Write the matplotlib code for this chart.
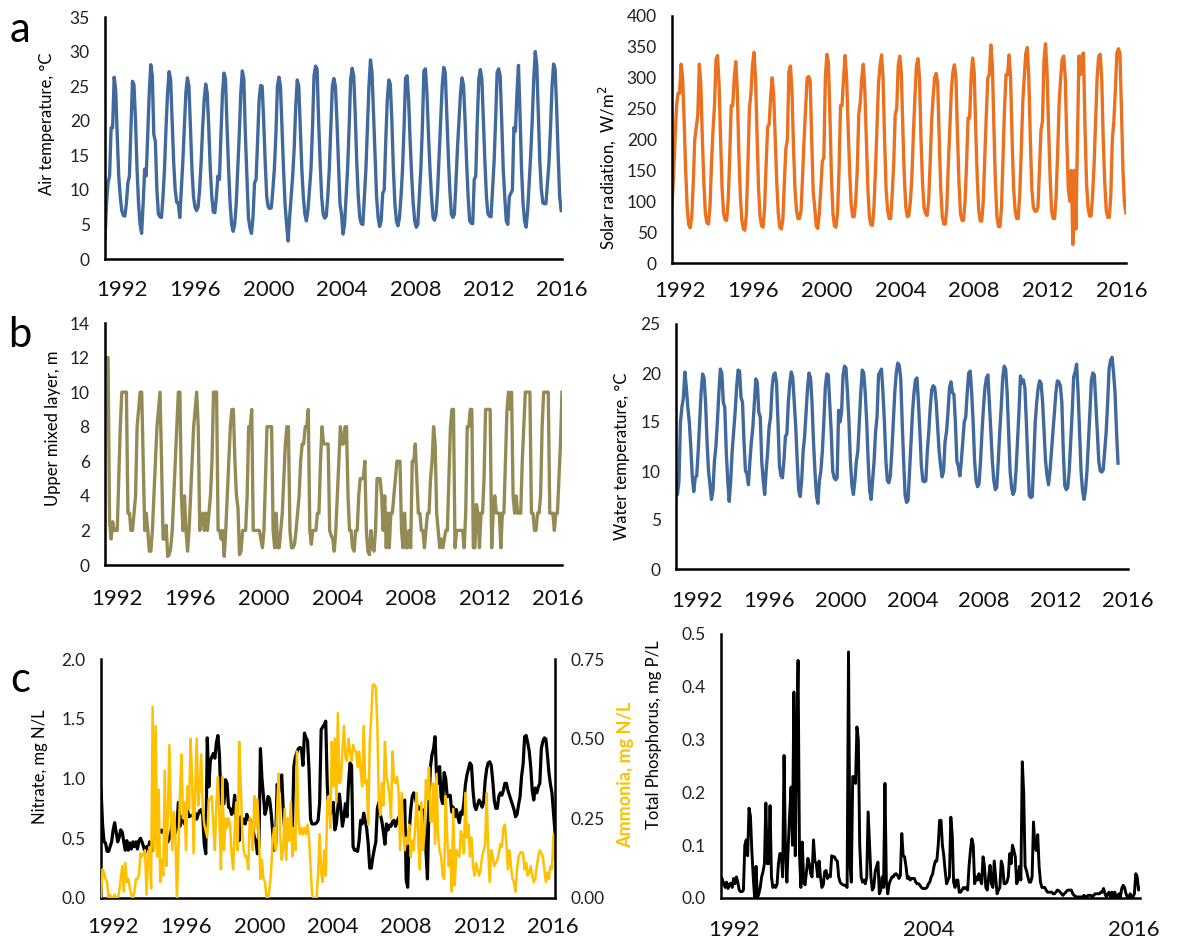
import numpy as np
import matplotlib
matplotlib.use("Agg")
import matplotlib.pyplot as plt

plt.rcParams['font.family'] = ['Lato', 'DejaVu Sans']

# Series mensuales, enero 1991 - diciembre 2015 (una fila por año)
temp_aire = [
    [2.9, 8.0, 11.0, 12.0, 19.0, 19.0, 26.3, 24.5, 18.0, 12.0, 9.0, 7.0],
    [6.3, 6.2, 8.0, 11.0, 12.0, 19.0, 25.7, 25.2, 20.0, 13.0, 8.0, 5.0],
    [3.7, 8.0, 13.0, 12.0, 18.0, 24.0, 28.1, 26.5, 18.0, 17.0, 10.0, 6.5],
    [6.1, 6.0, 9.0, 13.0, 19.0, 24.0, 27.1, 26.0, 20.0, 14.0, 10.0, 8.2],
    [8.1, 6.0, 10.0, 14.0, 19.0, 24.0, 26.2, 25.0, 19.0, 13.0, 9.0, 7.5],
    [7.0, 7.5, 10.0, 14.0, 19.0, 23.0, 25.3, 24.0, 19.0, 13.0, 9.0, 6.8],
    [6.7, 9.0, 12.0, 11.5, 18.0, 24.0, 26.9, 26.0, 19.0, 13.0, 8.0, 5.0],
    [4.0, 5.0, 8.0, 13.0, 18.0, 24.0, 27.2, 26.0, 18.0, 12.0, 6.0, 4.5],
    [3.7, 6.0, 11.0, 11.5, 17.0, 23.0, 25.1, 25.0, 20.0, 14.0, 9.0, 7.5],
    [7.3, 7.4, 10.0, 13.0, 18.0, 25.0, 26.3, 25.0, 19.0, 13.0, 8.0, 5.0],
    [2.6, 6.0, 9.0, 12.0, 16.0, 22.0, 25.9, 25.0, 19.0, 13.0, 9.0, 6.5],
    [5.5, 7.0, 10.0, 13.0, 19.0, 26.5, 27.9, 27.5, 20.0, 14.0, 9.0, 6.5],
    [5.9, 6.2, 9.0, 13.0, 19.0, 25.0, 26.1, 25.0, 20.0, 14.0, 8.0, 6.5],
    [3.6, 5.0, 9.0, 13.0, 19.0, 26.0, 27.6, 26.5, 21.0, 14.0, 9.0, 6.0],
    [5.1, 5.0, 9.0, 13.0, 19.0, 25.0, 28.8, 27.0, 21.0, 15.0, 9.0, 6.0],
    [4.7, 5.5, 9.5, 10.0, 17.0, 23.0, 25.9, 25.3, 20.0, 13.0, 8.0, 5.5],
    [4.8, 6.0, 9.0, 13.0, 19.0, 26.2, 26.5, 23.0, 17.0, 12.0, 8.0, 5.5],
    [4.6, 5.0, 9.0, 13.0, 19.0, 27.2, 27.5, 24.0, 18.0, 13.0, 9.0, 6.0],
    [5.6, 6.5, 10.0, 15.0, 20.0, 25.0, 27.7, 27.0, 21.0, 15.0, 10.0, 6.5],
    [6.0, 6.5, 11.0, 16.0, 20.0, 24.0, 26.2, 25.0, 20.0, 14.0, 9.0, 5.5],
    [5.2, 5.1, 11.5, 12.0, 20.0, 26.0, 27.4, 26.0, 20.0, 14.0, 9.0, 6.5],
    [6.2, 6.1, 10.0, 14.0, 20.0, 27.0, 27.5, 26.5, 20.0, 13.0, 9.0, 5.5],
    [5.0, 9.0, 9.5, 10.0, 19.0, 18.5, 24.0, 28.0, 21.0, 13.0, 8.0, 5.5],
    [4.6, 7.0, 11.0, 15.0, 20.0, 26.0, 30.0, 28.0, 21.0, 14.0, 10.0, 8.1],
    [8.0, 8.0, 11.0, 14.0, 19.0, 25.0, 28.2, 27.5, 22.0, 15.0, 9.0, 7.0],
]

radiacion = [
    [95, 140, 200, 255, 275, 275, 322, 300, 230, 150, 90, 62],
    [57, 75, 130, 200, 220, 240, 322, 290, 200, 130, 80, 65],
    [63, 90, 160, 215, 255, 330, 336, 290, 200, 120, 80, 70],
    [69, 100, 170, 255, 255, 300, 326, 280, 180, 110, 70, 55],
    [53, 80, 160, 250, 275, 320, 341, 300, 210, 120, 75, 60],
    [58, 90, 160, 220, 225, 270, 300, 270, 200, 130, 80, 58],
    [55, 70, 130, 185, 200, 310, 319, 280, 190, 120, 85, 72],
    [72, 85, 140, 200, 250, 300, 302, 295, 200, 115, 90, 60],
    [56, 80, 120, 165, 170, 300, 338, 325, 240, 140, 80, 60],
    [58, 80, 150, 255, 255, 300, 336, 300, 220, 150, 95, 75],
    [75, 100, 150, 240, 260, 300, 322, 280, 200, 120, 75, 62],
    [61, 90, 150, 220, 290, 320, 337, 300, 200, 120, 85, 72],
    [72, 110, 160, 240, 250, 320, 335, 310, 220, 140, 90, 75],
    [77, 100, 140, 210, 270, 320, 331, 300, 200, 130, 90, 80],
    [77, 100, 160, 230, 270, 300, 307, 290, 200, 120, 75, 63],
    [63, 90, 160, 220, 280, 310, 321, 300, 210, 130, 80, 69],
    [69, 100, 160, 235, 235, 300, 332, 310, 220, 140, 85, 68],
    [68, 100, 170, 240, 300, 305, 353, 320, 220, 130, 75, 59],
    [59, 90, 170, 250, 305, 305, 337, 300, 200, 120, 85, 72],
    [72, 110, 180, 260, 300, 340, 349, 300, 200, 120, 90, 84],
    [84, 90, 150, 215, 230, 330, 355, 310, 220, 140, 85, 72],
    [72, 110, 180, 260, 300, 330, 335, 300, 200, 120, 100, 150],
    [30, 150, 55, 200, 335, 305, 335, 340, 220, 130, 90, 76],
    [76, 110, 160, 230, 300, 335, 338, 300, 200, 130, 85, 74],
    [74, 110, 200, 230, 280, 340, 347, 340, 250, 150, 95, 81],
]

capa_mezcla = [
    [12, 12, 12, 2.5, 1.5, 2.5, 2, 2, 2, 5, 8, 10],
    [10, 10, 10, 3, 3, 2, 2, 3, 4, 8, 9, 10],
    [10, 6, 2, 3, 2, 0.8, 0.8, 2, 4, 6, 8, 9],
    [10, 6, 1.5, 1.5, 2.3, 0.5, 0.6, 1, 2, 4, 6, 8],
    [10, 10, 4, 2, 4, 2, 0.8, 2, 4, 6, 8, 9],
    [10, 8, 2, 2.5, 3, 2, 3, 2, 3, 4, 6, 10],
    [10, 10, 2, 2, 1.5, 2, 0.5, 2, 4, 6, 8, 9],
    [9, 6, 4, 3.3, 0.6, 0.8, 2, 2, 2, 4, 8, 8],
    [9, 2, 2, 2, 2, 2, 1.5, 1, 2, 5, 8, 8],
    [8, 8, 2, 1, 3, 1, 1, 2, 3, 5, 7, 8],
    [8, 2, 1, 1, 1.2, 2, 3, 4, 6, 7, 7, 8],
    [8, 9, 2, 1.2, 2, 2, 2, 3, 3, 6, 8, 7],
    [7, 7, 7, 2, 1.7, 1.5, 0.8, 2, 4, 6, 8, 7],
    [7, 8, 8, 4, 2, 2, 1, 0.8, 2, 2, 4, 5],
    [5, 5, 6, 2, 0.8, 0.6, 2, 1, 0.8, 2, 5, 5],
    [5, 4, 2, 4, 1, 3, 1, 3, 3, 4, 5, 6],
    [6, 6, 2, 1, 3, 1, 1, 2, 1, 6, 6, 7],
    [5, 3, 3, 2, 2, 1, 2, 3, 3, 5, 6, 8],
    [7, 3, 2, 1, 1.5, 1, 1.5, 2, 2, 5, 8, 9],
    [9, 1, 2, 2, 2, 2, 2, 1, 3, 8, 8, 9],
    [9, 1, 1, 3.5, 3, 1, 3, 3, 5, 9, 9, 9],
    [9, 1, 3, 4, 3, 3, 3, 1, 3, 3, 6, 9],
    [10, 9, 10, 4, 3, 4, 3, 3, 3, 6, 8, 10],
    [10, 10, 10, 3, 3, 2, 2, 3, 3, 4, 8, 10],
    [10, 10, 10, 3, 3, 3, 2, 3, 3, 5, 7, 10],
]

temp_agua = [
    [8.0, 7.6, 9.0, 15.0, 16.5, 17.5, 20.1, 18.5, 16.5, 15.0, 12.5, 9.5],
    [7.9, 9.3, 9.5, 12.0, 15.0, 18.0, 19.9, 19.5, 17.0, 13.0, 10.0, 8.5],
    [7.1, 8.0, 11.0, 12.5, 15.0, 18.0, 20.4, 20.0, 17.0, 16.5, 12.0, 9.0],
    [6.9, 9.0, 12.0, 14.0, 16.0, 18.5, 20.3, 20.2, 17.5, 17.0, 13.0, 10.0],
    [9.7, 8.6, 11.0, 13.0, 14.5, 17.0, 19.4, 19.0, 16.0, 15.5, 11.0, 9.0],
    [7.6, 10.0, 12.0, 14.5, 15.5, 18.5, 19.8, 20.0, 19.0, 15.0, 10.5, 9.5],
    [9.3, 11.0, 13.5, 13.8, 17.0, 19.0, 20.1, 19.5, 17.0, 14.5, 11.0, 8.0],
    [7.4, 9.0, 12.0, 13.5, 16.0, 18.5, 20.0, 19.5, 17.0, 13.0, 10.0, 7.5],
    [6.7, 9.0, 10.0, 12.0, 15.0, 18.5, 19.9, 19.8, 17.0, 14.0, 10.0, 9.3],
    [9.1, 9.3, 16.2, 15.0, 16.0, 19.8, 20.7, 20.5, 18.0, 15.0, 11.0, 8.5],
    [7.6, 9.0, 11.0, 12.0, 15.0, 18.0, 20.3, 20.0, 18.0, 15.0, 11.0, 8.0],
    [7.1, 9.0, 11.0, 14.0, 15.5, 19.8, 20.1, 20.4, 18.0, 15.0, 11.0, 9.0],
    [8.8, 9.5, 12.0, 15.0, 18.0, 20.0, 21.0, 20.8, 19.5, 15.0, 11.0, 7.5],
    [6.8, 7.0, 10.0, 13.0, 16.0, 18.0, 19.3, 19.5, 17.0, 14.0, 10.5, 9.0],
    [8.9, 9.0, 12.0, 14.0, 16.5, 18.3, 18.7, 18.5, 17.0, 14.5, 12.0, 10.5],
    [9.4, 10.0, 13.0, 14.0, 16.0, 18.5, 19.1, 18.0, 17.8, 15.0, 11.0, 10.5],
    [9.5, 11.0, 13.0, 15.0, 15.5, 18.0, 20.0, 20.2, 18.0, 15.0, 11.0, 9.0],
    [8.4, 8.7, 11.0, 14.0, 16.5, 18.5, 19.5, 19.8, 17.0, 14.0, 11.0, 9.0],
    [8.1, 8.3, 11.0, 14.0, 16.5, 19.5, 20.7, 20.4, 18.0, 14.0, 10.0, 8.3],
    [7.6, 8.0, 10.0, 13.0, 16.0, 19.7, 19.0, 19.3, 18.5, 15.0, 11.0, 7.5],
    [7.3, 7.4, 11.0, 15.0, 17.0, 18.5, 19.2, 18.9, 17.0, 14.0, 11.0, 9.5],
    [8.6, 10.0, 12.0, 14.0, 16.0, 18.0, 19.2, 19.1, 18.7, 17.0, 12.0, 8.5],
    [8.1, 8.3, 10.0, 13.0, 16.0, 19.6, 20.1, 20.9, 18.0, 14.0, 10.0, 8.0],
    [7.1, 8.0, 10.0, 13.0, 16.0, 19.3, 20.0, 19.8, 17.0, 14.0, 11.0, 10.0],
    [9.9, 10.1, 12.0, 14.0, 17.0, 20.5, 21.3, 21.6, 20.0, 18.0, 14.0, 10.8],
]

nitrato = [
    [0.92, 0.62, 0.47, 0.46, 0.39, 0.39, 0.43, 0.47, 0.57, 0.63, 0.55, 0.47],
    [0.51, 0.57, 0.55, 0.47, 0.40, 0.48, 0.40, 0.46, 0.41, 0.47, 0.43, 0.47],
    [0.41, 0.48, 0.50, 0.47, 0.43, 0.38, 0.43, 0.41, 0.47, 0.40, 0.40, 0.53],
    [0.53, 0.50, 0.55, 0.57, 0.55, 0.57, 0.54, 0.50, 0.47, 0.50, 0.55, 0.62],
    [0.52, 0.55, 0.62, 0.80, 0.60, 0.65, 0.69, 0.62, 0.71, 0.73, 0.68, 0.69],
    [0.69, 0.68, 0.71, 0.66, 0.70, 0.73, 0.74, 0.69, 0.45, 0.37, 1.34, 0.93],
    [1.15, 1.18, 1.21, 1.17, 1.30, 1.36, 1.20, 0.79, 0.78, 0.79, 0.99, 0.96],
    [0.76, 0.75, 0.70, 0.72, 0.86, 0.65, 0.55, 0.48, 0.68, 0.62, 0.66, 0.62],
    [0.70, 0.66, 0.66, 0.62, 0.58, 0.51, 0.48, 0.37, 0.43, 1.25, 1.00, 0.85],
    [0.70, 0.75, 0.85, 0.83, 0.72, 0.57, 0.40, 0.43, 0.95, 0.88, 0.95, 1.03],
    [0.75, 0.56, 0.58, 0.58, 0.54, 0.62, 0.54, 1.10, 1.18, 1.22, 1.25, 1.26],
    [1.25, 1.11, 1.38, 1.34, 1.32, 1.07, 0.66, 0.62, 0.62, 0.62, 0.63, 0.65],
    [0.80, 1.41, 1.43, 1.45, 1.48, 0.95, 0.72, 0.70, 0.78, 0.80, 0.57, 0.62],
    [0.76, 0.87, 0.74, 0.60, 0.68, 0.79, 0.68, 0.95, 1.13, 1.11, 0.43, 0.40],
    [0.40, 0.39, 0.48, 0.65, 0.62, 0.71, 0.65, 0.58, 0.45, 0.25, 0.25, 0.34],
    [0.41, 0.47, 0.75, 0.80, 0.70, 0.64, 0.55, 0.45, 0.62, 0.57, 0.61, 0.60],
    [0.64, 0.65, 0.60, 0.64, 0.67, 0.70, 0.72, 0.77, 0.82, 0.15, 0.09, 0.55],
    [0.74, 0.85, 0.88, 0.84, 0.78, 0.74, 0.76, 0.74, 0.69, 0.74, 0.40, 0.16],
    [0.80, 1.10, 1.20, 1.25, 1.35, 1.02, 0.96, 1.10, 0.84, 0.79, 1.05, 1.00],
    [0.85, 0.85, 0.86, 0.72, 0.76, 0.68, 0.74, 0.68, 0.63, 0.72, 0.70, 0.80],
    [0.95, 1.03, 1.08, 1.13, 1.11, 0.90, 0.77, 0.74, 0.78, 0.82, 0.80, 0.76],
    [0.80, 0.98, 1.08, 1.13, 1.14, 1.11, 0.98, 0.82, 0.75, 0.75, 0.85, 0.88],
    [0.86, 0.90, 0.96, 0.96, 0.90, 0.86, 0.82, 0.78, 0.74, 0.68, 0.70, 0.78],
    [0.85, 1.02, 1.12, 1.35, 1.36, 1.30, 1.23, 1.10, 0.90, 0.82, 0.92, 0.88],
    [0.93, 0.96, 1.25, 1.31, 1.34, 1.33, 1.20, 1.05, 0.95, 0.88, 0.72, 0.55],
]

amonio = [
    [0.00, 0.09, 0.08, 0.06, 0.05, 0.00, 0.01, 0.00, 0.00, 0.01, 0.00, 0.00],
    [0.02, 0.06, 0.10, 0.02, 0.11, 0.05, 0.06, 0.03, 0.01, 0.00, 0.02, 0.06],
    [0.06, 0.07, 0.14, 0.13, 0.14, 0.15, 0.01, 0.13, 0.16, 0.03, 0.60, 0.15],
    [0.54, 0.13, 0.34, 0.05, 0.12, 0.07, 0.40, 0.10, 0.25, 0.48, 0.27, 0.15],
    [0.27, 0.20, 0.00, 0.15, 0.33, 0.45, 0.25, 0.30, 0.15, 0.35, 0.28, 0.50],
    [0.38, 0.14, 0.33, 0.50, 0.29, 0.34, 0.45, 0.28, 0.23, 0.21, 0.19, 0.31],
    [0.31, 0.32, 0.23, 0.15, 0.30, 0.38, 0.25, 0.09, 0.38, 0.15, 0.25, 0.22],
    [0.25, 0.23, 0.14, 0.09, 0.20, 0.30, 0.15, 0.49, 0.36, 0.21, 0.15, 0.13],
    [0.13, 0.09, 0.25, 0.23, 0.15, 0.32, 0.22, 0.31, 0.20, 0.06, 0.12, 0.06],
    [0.05, 0.00, 0.00, 0.03, 0.08, 0.18, 0.22, 0.15, 0.28, 0.39, 0.20, 0.12],
    [0.15, 0.28, 0.12, 0.25, 0.18, 0.30, 0.13, 0.22, 0.15, 0.46, 0.25, 0.20],
    [0.22, 0.20, 0.22, 0.20, 0.23, 0.19, 0.10, 0.01, 0.00, 0.00, 0.00, 0.08],
    [0.20, 0.08, 0.05, 0.15, 0.07, 0.30, 0.32, 0.22, 0.49, 0.35, 0.50, 0.30],
    [0.58, 0.36, 0.37, 0.46, 0.54, 0.44, 0.43, 0.50, 0.46, 0.43, 0.48, 0.46],
    [0.46, 0.41, 0.46, 0.40, 0.35, 0.54, 0.36, 0.37, 0.23, 0.49, 0.57, 0.67],
    [0.67, 0.66, 0.54, 0.30, 0.26, 0.36, 0.29, 0.49, 0.38, 0.36, 0.32, 0.25],
    [0.46, 0.37, 0.36, 0.38, 0.33, 0.15, 0.33, 0.21, 0.15, 0.19, 0.17, 0.23],
    [0.13, 0.18, 0.15, 0.23, 0.33, 0.17, 0.09, 0.30, 0.15, 0.20, 0.37, 0.31],
    [0.41, 0.24, 0.24, 0.36, 0.17, 0.39, 0.19, 0.15, 0.13, 0.07, 0.06, 0.32],
    [0.19, 0.10, 0.15, 0.02, 0.28, 0.04, 0.15, 0.14, 0.13, 0.21, 0.19, 0.14],
    [0.33, 0.19, 0.23, 0.13, 0.19, 0.10, 0.07, 0.11, 0.09, 0.07, 0.09, 0.13],
    [0.15, 0.17, 0.33, 0.15, 0.05, 0.15, 0.13, 0.10, 0.11, 0.12, 0.14, 0.17],
    [0.16, 0.22, 0.23, 0.17, 0.09, 0.15, 0.10, 0.06, 0.05, 0.02, 0.09, 0.13],
    [0.14, 0.145, 0.14, 0.09, 0.11, 0.07, 0.08, 0.10, 0.07, 0.05, 0.06, 0.10],
    [0.13, 0.15, 0.14, 0.13, 0.09, 0.05, 0.08, 0.06, 0.10, 0.09, 0.20, 0.12],
]

fosforo = [
    [0.040, 0.035, 0.027, 0.020, 0.030, 0.018, 0.026, 0.028, 0.020, 0.037, 0.027, 0.040],
    [0.030, 0.015, 0.012, 0.012, 0.015, 0.100, 0.110, 0.080, 0.170, 0.155, 0.090, 0.040],
    [0.000, 0.060, 0.000, 0.008, 0.020, 0.040, 0.050, 0.065, 0.180, 0.065, 0.065, 0.175],
    [0.040, 0.020, 0.024, 0.020, 0.026, 0.065, 0.084, 0.084, 0.040, 0.270, 0.090, 0.030],
    [0.100, 0.160, 0.210, 0.100, 0.390, 0.080, 0.300, 0.450, 0.084, 0.020, 0.106, 0.030],
    [0.025, 0.050, 0.075, 0.065, 0.046, 0.040, 0.110, 0.070, 0.065, 0.040, 0.070, 0.040],
    [0.020, 0.025, 0.050, 0.052, 0.037, 0.043, 0.040, 0.080, 0.078, 0.078, 0.072, 0.070],
    [0.040, 0.030, 0.027, 0.025, 0.024, 0.024, 0.020, 0.466, 0.065, 0.030, 0.230, 0.230],
    [0.217, 0.324, 0.300, 0.100, 0.040, 0.030, 0.034, 0.027, 0.040, 0.163, 0.100, 0.040],
    [0.015, 0.020, 0.049, 0.060, 0.068, 0.008, 0.015, 0.040, 0.020, 0.217, 0.030, 0.008],
    [0.027, 0.034, 0.040, 0.040, 0.045, 0.046, 0.043, 0.037, 0.043, 0.122, 0.080, 0.078],
    [0.060, 0.037, 0.040, 0.034, 0.037, 0.037, 0.037, 0.030, 0.027, 0.027, 0.024, 0.020],
    [0.018, 0.018, 0.018, 0.020, 0.027, 0.030, 0.040, 0.045, 0.060, 0.070, 0.070, 0.100],
    [0.147, 0.147, 0.100, 0.080, 0.050, 0.027, 0.034, 0.040, 0.153, 0.120, 0.030, 0.020],
    [0.034, 0.034, 0.011, 0.011, 0.015, 0.020, 0.018, 0.020, 0.015, 0.060, 0.090, 0.112],
    [0.100, 0.027, 0.040, 0.034, 0.046, 0.034, 0.027, 0.078, 0.060, 0.020, 0.015, 0.040],
    [0.062, 0.027, 0.020, 0.070, 0.040, 0.008, 0.015, 0.020, 0.070, 0.060, 0.027, 0.027],
    [0.030, 0.040, 0.084, 0.065, 0.100, 0.090, 0.078, 0.027, 0.034, 0.060, 0.034, 0.258],
    [0.200, 0.060, 0.052, 0.040, 0.030, 0.030, 0.040, 0.144, 0.097, 0.090, 0.120, 0.060],
    [0.030, 0.020, 0.020, 0.020, 0.015, 0.011, 0.011, 0.011, 0.011, 0.008, 0.008, 0.011],
    [0.015, 0.014, 0.011, 0.008, 0.005, 0.008, 0.011, 0.014, 0.015, 0.015, 0.015, 0.008],
    [0.005, 0.003, 0.002, 0.002, 0.002, 0.002, 0.002, 0.005, 0.002, 0.002, 0.005, 0.005],
    [0.005, 0.002, 0.005, 0.008, 0.008, 0.008, 0.008, 0.011, 0.011, 0.018, 0.008, 0.002],
    [0.008, 0.011, 0.002, 0.011, 0.002, 0.011, 0.002, 0.002, 0.008, 0.002, 0.018, 0.024],
    [0.020, 0.008, 0.002, 0.002, 0.008, 0.002, 0.002, 0.008, 0.046, 0.040, 0.015, 0.018],
]

etiquetas_anios = ['1992', '1996', '2000', '2004', '2008', '2012', '2016']
etiquetas_fosforo = ['1992', '2004', '2016']

azul = '#41699C'
naranja = '#EA7120'
oliva = '#948A54'
dorado = '#FFC000'

W, H = 1181, 944


def serie(filas):
    return np.array(filas, dtype=float).ravel()


def caja(x0, y0, x1, y1):
    """Pasar una caja en pixeles (arriba-izquierda) a fracciones de figura"""
    return [x0 / W, 1 - y1 / H, (x1 - x0) / W, (y1 - y0) / H]


def preparar_eje(ax, yticks, yfmt, xpos, xlab, xpad):
    ax.set_xlim(t[0], t[-1])
    ax.set_ylim(yticks[0], yticks[-1])
    ax.set_yticks(yticks)
    ax.set_yticklabels([yfmt.format(v) for v in yticks], fontsize=12.5, color='#222222')
    ax.set_xticks(xpos)
    ax.set_xticklabels(xlab, fontsize=16, color='#111111')
    ax.tick_params(length=0)
    ax.tick_params(axis='y', pad=11)
    ax.tick_params(axis='x', pad=xpad)
    for s in ['top', 'right']:
        ax.spines[s].set_visible(False)
    for s in ['left', 'bottom']:
        ax.spines[s].set_linewidth(1.8)
    ax.patch.set_alpha(0)


def etiqueta_y(x, y, texto, **kw):
    fig.text(x / W, 1 - y / H, texto, rotation=90, ha='center', va='center',
             fontsize=kw.pop('fontsize', 12), **kw)


t = 1991 + np.arange(300) / 12.0

fig = plt.figure(figsize=(W / 100, H / 100), dpi=100)

# --- a: temperatura del aire
ax = fig.add_axes(caja(105, 17, 562, 259))
ax.plot(t, serie(temp_aire), color=azul, lw=2.4)
preparar_eje(ax, np.arange(0, 36, 5), '{:.0f}', np.linspace(1991.94, 2015.96, 7), etiquetas_anios, 15)
etiqueta_y(47, 124, 'Air temperature, °C')

# --- a: radiacion solar
ax = fig.add_axes(caja(672, 16, 1126, 263))
ax.plot(t, serie(radiacion), color=naranja, lw=2.4)
preparar_eje(ax, np.arange(0, 401, 50), '{:.0f}', np.linspace(1991.42, 2015.67, 7), etiquetas_anios, 13)
etiqueta_y(607, 168, 'Solar radiation,  W/m$^2$')

# --- b: capa de mezcla
ax = fig.add_axes(caja(105, 323, 562, 565))
ax.plot(t, serie(capa_mezcla), color=oliva, lw=2.4)
preparar_eje(ax, np.arange(0, 15, 2), '{:.0f}', np.linspace(1991.63, 2015.71, 7), etiquetas_anios, 17)
etiqueta_y(53, 428, 'Upper mixed layer, m')

# --- b: temperatura del agua
ax = fig.add_axes(caja(676, 324, 1128, 569))
ax.plot(t, serie(temp_agua), color=azul, lw=2.4)
preparar_eje(ax, np.arange(0, 26, 5), '{:.0f}', np.linspace(1992.18, 2016.48, 7), etiquetas_anios, 16)
etiqueta_y(622, 456, 'Water temperature, °C')

# --- c: nitrato y amonio
ax = fig.add_axes(caja(101, 659, 555, 898))
ax.plot(t, serie(nitrato), color='black', lw=2.3)
preparar_eje(ax, np.arange(0, 2.01, 0.5), '{:.1f}', np.linspace(1991.63, 2015.81, 7), etiquetas_anios, 14)
ax2 = ax.twinx()
ax2.set_position(ax.get_position())
ax2.plot(t, serie(amonio), color=dorado, lw=1.8)
ax2.set_ylim(0, 0.75)
ax2.set_yticks(np.arange(0, 0.76, 0.25))
ax2.set_yticklabels(['{:.2f}'.format(v) for v in np.arange(0, 0.76, 0.25)], fontsize=12.5, color='#222222')
ax2.tick_params(length=0, pad=11)
for s in ['top', 'left', 'bottom']:
    ax2.spines[s].set_visible(False)
ax2.spines['right'].set_linewidth(1.8)
etiqueta_y(40, 767, 'Nitrate, mg N/L')
etiqueta_y(626, 775, 'Ammonia, mg N/L', fontsize=13, color=dorado, fontweight='bold')

# --- c: fosforo total
ax = fig.add_axes(caja(721, 634, 1140, 898))
ax.plot(t, serie(fosforo), color='black', lw=2.1)
preparar_eje(ax, np.round(np.arange(0, 0.51, 0.1), 1), '{:.1f}', [1991.77, 2003.38, 2015.52], etiquetas_fosforo, 16)
etiqueta_y(654, 735, 'Total Phosphorus, mg P/L')

# letras de panel
fig.text(20 / W, 1 - 30 / H, 'a', ha='center', va='center', fontsize=30)
fig.text(20 / W, 1 - 335 / H, 'b', ha='center', va='center', fontsize=30)
fig.text(20 / W, 1 - 680 / H, 'c', ha='center', va='center', fontsize=30)

fig.savefig('out.png', dpi=100)
